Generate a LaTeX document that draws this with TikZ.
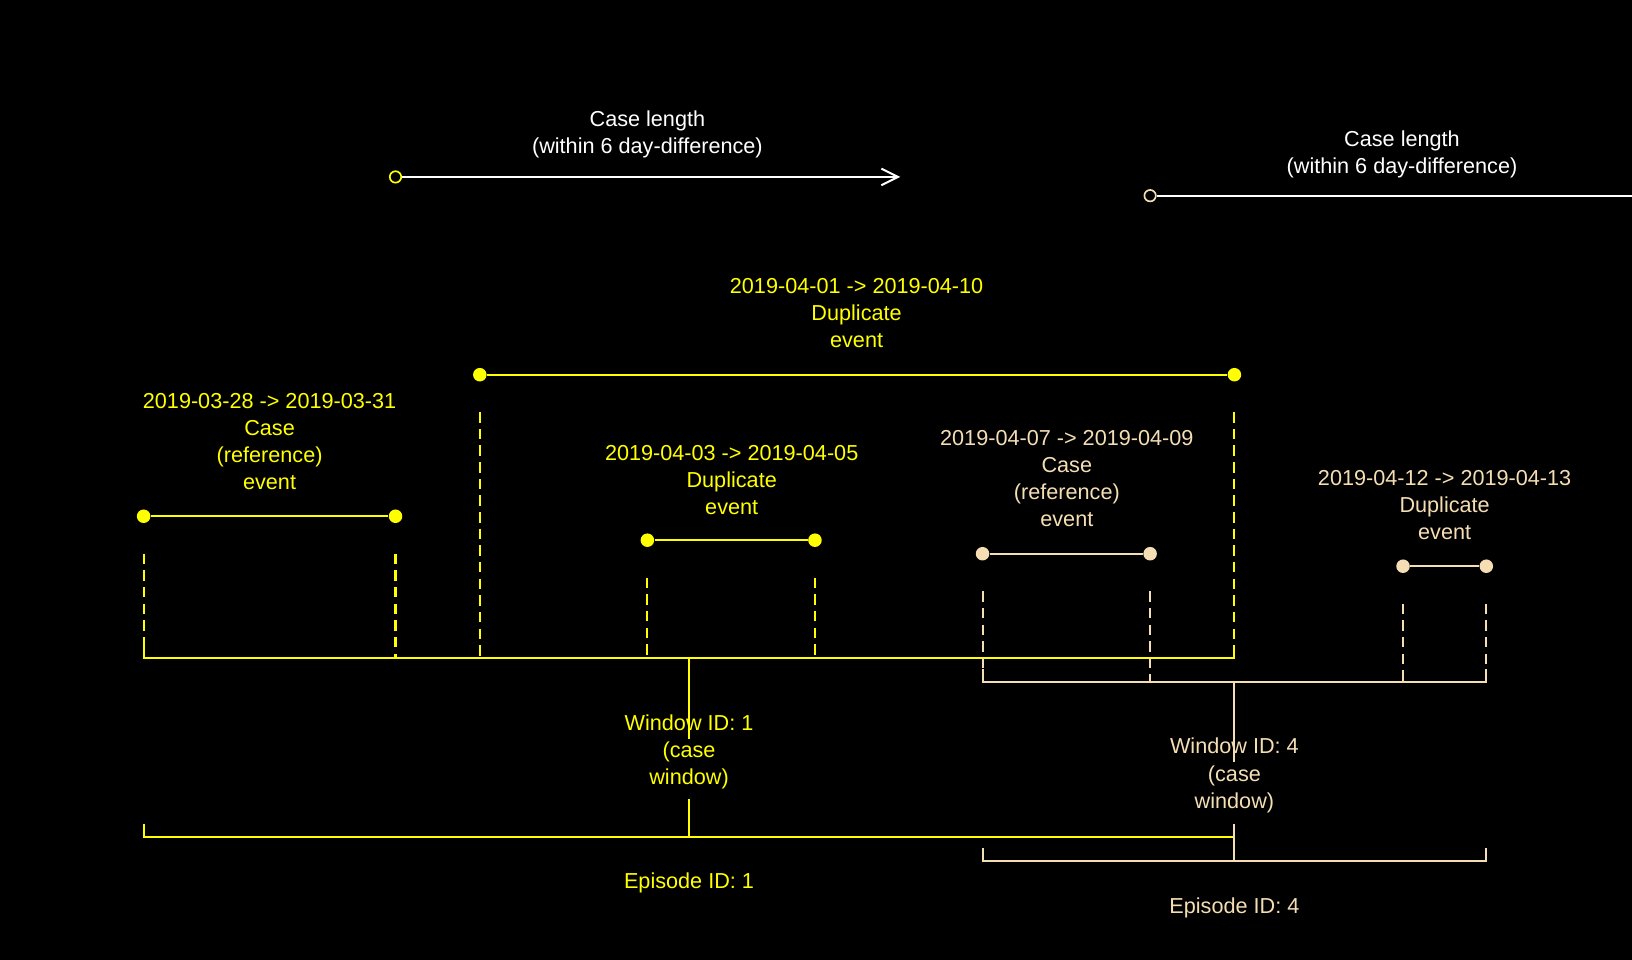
\documentclass[tikz,border=0pt]{standalone}
\usepackage{fontspec}
\setmainfont{Liberation Sans}
\usetikzlibrary{positioning, arrows.meta}

\definecolor{cyel}{RGB}{255,255,0}
\definecolor{cwheat}{RGB}{245,222,179}

\begin{document}
\begin{tikzpicture}[x=0.5pt, y=-0.5pt, font=\fontsize{10.4}{13}\selectfont,
    every node/.style={align=center},
    dot/.style={circle, fill, inner sep=0pt, minimum size=6.5pt},
    ring/.style={circle, draw, line width=0.8pt, inner sep=0pt, minimum size=5.5pt},
    seg/.style={line width=1pt},
    drop/.style={line width=1pt, dash pattern=on 5pt off 3pt},
    brace/.style={line width=1pt},
    lenarrow/.style={white, line width=1pt, -{Straight Barb[length=8pt, width=8pt]}}]

    \useasboundingbox (0,0) rectangle (1568,922);
    \fill[black] (0,0) rectangle (1568,922);
    \clip (0,0) rectangle (1568,922);

    % case lengths
    \node[ring, cyel] (c1) at (380,170) {};
    \coordinate (c1e) at (865,170);
    \node[white] (l1) at (622,129) {Case length\\(within 6 day-difference)};

    \node[ring, cwheat] (c2) at (1105,188) {};
    \coordinate (c2e) at (1590,188);
    \node[white] (l2) at (1347,148) {Case length\\(within 6 day-difference)};

    \draw[lenarrow] (c1) -- (c1e);
    \draw[lenarrow] (c2) -- (c2e);

    % events of window 1
    \node[dot, cyel] (a1) at (138,496) {};
    \node[dot, cyel] (a2) at (380,496) {};
    \node[cyel] (la) at (259,424) {2019-03-28 -> 2019-03-31\\Case\\(reference)\\event};

    \node[dot, cyel] (d1) at (461,360) {};
    \node[dot, cyel] (d2) at (1186,360) {};
    \node[cyel] (ld) at (823,301) {2019-04-01 -> 2019-04-10\\Duplicate\\event};

    \node[dot, cyel] (b1) at (622,519) {};
    \node[dot, cyel] (b2) at (783,519) {};
    \node[cyel] (lb) at (703,461) {2019-04-03 -> 2019-04-05\\Duplicate\\event};

    \draw[seg, cyel] (a1) -- (a2);
    \draw[seg, cyel] (d1) -- (d2);
    \draw[seg, cyel] (b1) -- (b2);

    \coordinate (w1l) at (138,632);
    \coordinate (w1r) at (1186,632);
    \coordinate (w1m) at (662,632);
    \coordinate (w1a) at (662,710);
    \coordinate (w1b) at (662,768);
    \coordinate (p1l) at (138,804);
    \coordinate (p1r) at (1186,804);
    \coordinate (p1m) at (662,804);

    \foreach \n in {a1,a2,d1,d2,b1,b2}
        \draw[drop, cyel] ([yshift=-18pt]\n.center) -- (\n |- w1l);

    \draw[brace, cyel] ([yshift=6pt]w1l) -- (w1l) -- (w1r) -- ([yshift=6pt]w1r);
    \draw[brace, cyel] (w1m) -- (w1a);
    \draw[brace, cyel] (w1b) -- (p1m);
    \node[cyel] (lw1) at (662,722) {Window ID: 1\\(case\\window)};

    \draw[brace, cyel] ([yshift=6pt]p1l) -- (p1l) -- (p1r) -- ([yshift=6pt]p1r);
    \node[cyel] (lp1) at (662,848) {Episode ID: 1};

    % events of window 4
    \node[dot, cwheat] (e1) at (944,532) {};
    \node[dot, cwheat] (e2) at (1105,532) {};
    \node[cwheat] (le) at (1025,460) {2019-04-07 -> 2019-04-09\\Case\\(reference)\\event};

    \node[dot, cwheat] (f1) at (1348,544) {};
    \node[dot, cwheat] (f2) at (1428,544) {};
    \node[cwheat] (lf) at (1388,485) {2019-04-12 -> 2019-04-13\\Duplicate\\event};

    \draw[seg, cwheat] (e1) -- (e2);
    \draw[seg, cwheat] (f1) -- (f2);

    \coordinate (w4l) at (944,655);
    \coordinate (w4r) at (1428,655);
    \coordinate (w4m) at (1186,655);
    \coordinate (w4a) at (1186,732);
    \coordinate (w4b) at (1186,792);
    \coordinate (p4l) at (944,827);
    \coordinate (p4r) at (1428,827);
    \coordinate (p4m) at (1186,827);

    \foreach \n in {e1,e2,f1,f2}
        \draw[drop, cwheat] ([yshift=-18pt]\n.center) -- (\n |- w4l);

    \draw[brace, cwheat] ([yshift=6pt]w4l) -- (w4l) -- (w4r) -- ([yshift=6pt]w4r);
    \draw[brace, cwheat] (w4m) -- (w4a);
    \draw[brace, cwheat] (w4b) -- (p4m);
    \node[cwheat] (lw4) at (1186,745) {Window ID: 4\\(case\\window)};

    \draw[brace, cwheat] ([yshift=6pt]p4l) -- (p4l) -- (p4r) -- ([yshift=6pt]p4r);
    \node[cwheat] (lp4) at (1186,872) {Episode ID: 4};
\end{tikzpicture}
\end{document}
